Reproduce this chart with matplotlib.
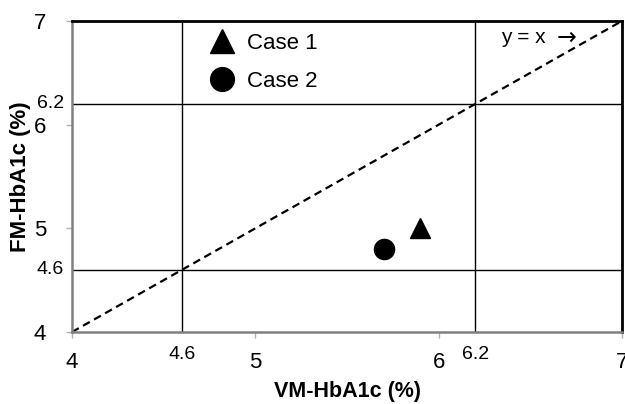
import matplotlib
matplotlib.use("Agg")
import matplotlib.pyplot as plt

plt.rcParams['font.family'] = ['Liberation Sans', 'DejaVu Sans']

# data
case1_x = [5.9]
case1_y = [5.0]
case2_x = [5.7]
case2_y = [4.8]
line_xy = [4, 7]
cutoffs = [4.6, 6.2]
major_ticks = [4, 5, 6, 7]

fig = plt.figure(figsize=(6.25, 4.04), dpi=100)
ax = fig.add_axes([72 / 625, 1 - 332 / 404, 550 / 625, 311 / 404])

# cutoff grid lines
for c in cutoffs:
    ax.axvline(c, color='black', lw=1.0, zorder=1)
    ax.axhline(c, color='black', lw=1.0, zorder=1)

ax.plot(line_xy, line_xy, color='black', ls=(0, (3.5, 2.2)), lw=1.6, zorder=2)

ax.plot(case1_x, case1_y, '^', color='black', ms=15, ls='none', label='Case 1', zorder=3)
ax.plot(case2_x, case2_y, 'o', color='black', ms=14.5, ls='none', label='Case 2', zorder=3)

ax.set_xlim(4, 7)
ax.set_ylim(4, 7)
ax.set_xticks(major_ticks)
ax.set_yticks(major_ticks)
ax.tick_params(axis='both', labelsize=16, length=4.5, width=1, color='#b0b0b0', direction='out')
ax.tick_params(axis='x', pad=10)
ax.tick_params(axis='y', pad=14)

# small cutoff labels
for c in cutoffs:
    ax.text(c, 3.78, str(c), ha='center', va='center', fontsize=14, clip_on=False)
    ax.text(3.957, c, str(c), ha='right', va='center', fontsize=14, clip_on=False)

for s in ['left', 'bottom']:
    ax.spines[s].set_color('#808080')
    ax.spines[s].set_linewidth(1.8)
for s in ['top', 'right']:
    ax.spines[s].set_color('black')
    ax.spines[s].set_linewidth(2)

ax.set_xlabel('VM-HbA1c (%)', fontsize=15.5, fontweight='bold', labelpad=6)
ax.set_ylabel('FM-HbA1c (%)', fontsize=16, fontweight='bold', labelpad=2)

ax.text(6.46, 6.84, 'y = x', ha='center', va='center', fontsize=15)
ax.text(6.70, 6.84, '\u2192', ha='center', va='center', fontsize=17,
        family='DejaVu Sans')

ax.legend(loc='upper left', bbox_to_anchor=(0.2527, 0.961), frameon=False,
          fontsize=16, markerscale=1.18, handletextpad=0.64, labelspacing=0.77,
          handlelength=1.0, borderpad=0, borderaxespad=0)

fig.savefig('out.png', dpi=100)
